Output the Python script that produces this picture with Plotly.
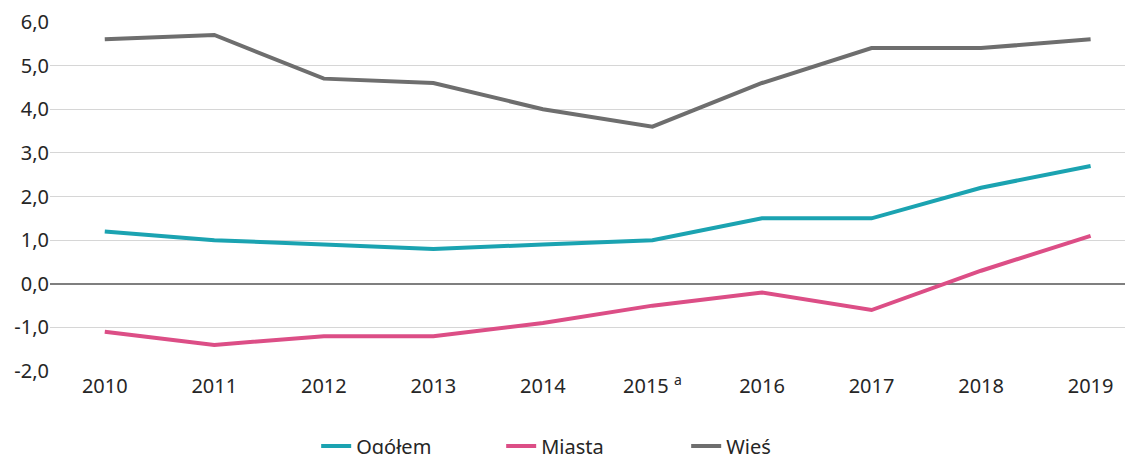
import plotly.graph_objects as go

years = ["2010", "2011", "2012", "2013", "2014", "2015 <sup>a</sup>", "2016", "2017", "2018", "2019"]
ogolem = [1.2, 1.0, 0.9, 0.8, 0.9, 1.0, 1.5, 1.5, 2.2, 2.7]
miasta = [-1.1, -1.4, -1.2, -1.2, -0.9, -0.5, -0.2, -0.6, 0.3, 1.1]
wies = [5.6, 5.7, 4.7, 4.6, 4.0, 3.6, 4.6, 5.4, 5.4, 5.6]
y_ticks = [-2, -1, 0, 1, 2, 3, 4, 5, 6]
y_labels = ["-2,0", "-1,0", "0,0", "1,0", "2,0", "3,0", "4,0", "5,0", "6,0"]

xs = list(range(len(years)))
font = "Noto Sans, Open Sans, sans-serif"

fig = go.Figure()
for name, vals, col in [("Ogółem", ogolem, "#1ba3b1"),
                        ("Miasta", miasta, "#dc4e86"),
                        ("Wieś", wies, "#6e6e6e")]:
    fig.add_trace(go.Scatter(x=xs, y=vals, name=name, mode="lines",
                             line=dict(color=col, width=4)))

fig.update_layout(
    width=1133, height=454,
    margin=dict(l=42, r=0, t=11, b=90),
    paper_bgcolor="white", plot_bgcolor="white",
    font=dict(family=font, size=20, color="#262626"),
    showlegend=True,
    legend=dict(orientation="h", xref="container", yref="container",
                x=0.272, xanchor="left", y=0.078, yanchor="top",
                font=dict(size=20, color="#262626"),
                entrywidth=140, entrywidthmode="pixels",
                tracegroupgap=0),
    xaxis=dict(tickmode="array", tickvals=xs, ticktext=years,
               range=[-0.5, 9.46], showgrid=False, zeroline=False,
               showline=False, ticks="", ticklen=0, ticklabeloverflow="allow"),
    yaxis=dict(tickmode="array", tickvals=y_ticks, ticktext=y_labels,
               range=[-2.02, 6.02], showgrid=True, gridcolor="#d6d6d6", gridwidth=1,
               zeroline=True, zerolinecolor="#7f7f7f", zerolinewidth=2,
               showline=False, ticks="", ticklen=0, ticklabeloverflow="allow"),
)
fig.write_html("out.html")
